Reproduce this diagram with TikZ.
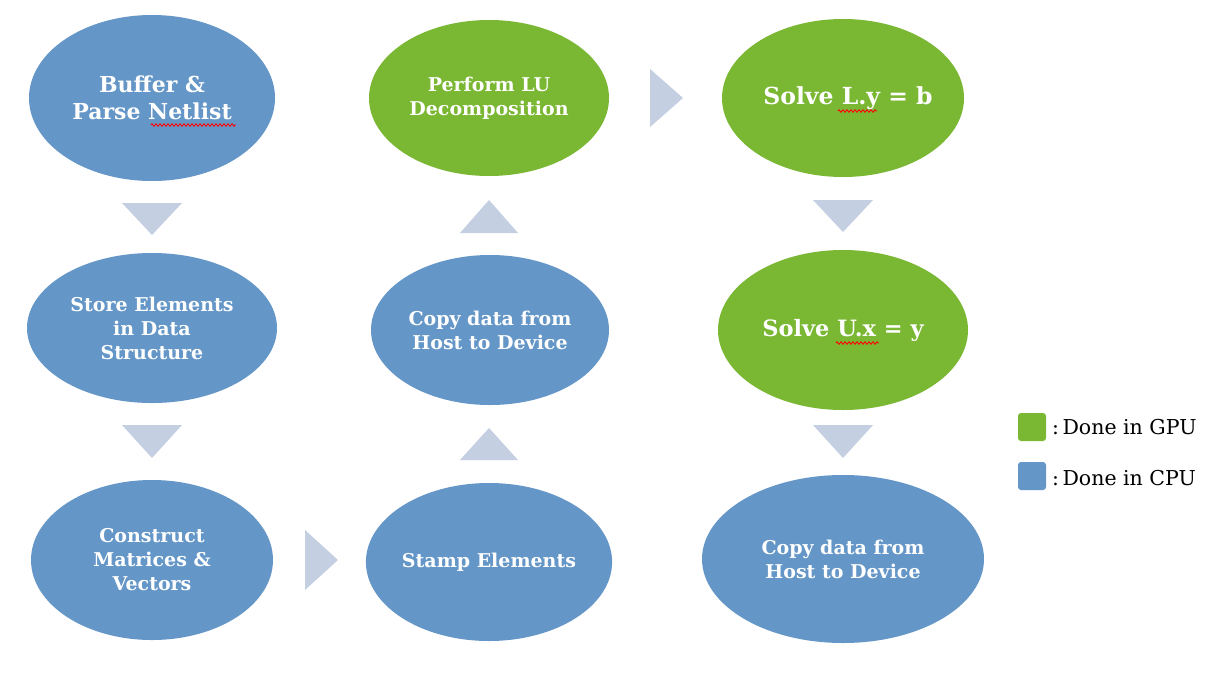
\documentclass[tikz,border=0pt]{standalone}
\usepackage{fontspec}
\setmainfont{DejaVu Serif}
\usetikzlibrary{shapes.geometric,decorations.pathmorphing}
\definecolor{cpu}{HTML}{6496C7}
\definecolor{gpu}{HTML}{7AB733}
\definecolor{arr}{HTML}{C4CFE2}
\tikzset{
  blob/.style={ellipse,inner sep=0pt,text=white,align=center},
  big/.style={font=\bfseries\fontsize{22}{27}\selectfont},
  mid/.style={font=\bfseries\fontsize{19}{24}\selectfont},
  cpublob/.style={blob,fill=cpu},
  gpublob/.style={blob,fill=gpu},
  tri/.style={fill=arr},
  spell/.style={draw=red,line width=0.9pt,decorate,decoration={zigzag,amplitude=1.2pt,segment length=4pt}},
  legtext/.style={anchor=west,inner sep=0pt,font=\fontsize{20.5}{24}\selectfont}
}
\begin{document}
\begin{tikzpicture}[x=1pt,y=-1pt]
\useasboundingbox[fill=white] (0,0) rectangle (1230,696);
% ellipses
\node[cpublob,big,minimum width=246pt,minimum height=166pt] (n1) at (152,98) {Buffer \&\\Parse Netlist};
\node[cpublob,mid,minimum width=250pt,minimum height=150pt] (n2) at (152,328) {Store Elements\\in Data\\Structure};
\node[cpublob,mid,minimum width=242pt,minimum height=160pt] (n3) at (152,560) {Construct\\Matrices \&\\Vectors};
\node[cpublob,mid,minimum width=242pt,minimum height=158pt] (n4) at (489,562) {Stamp Elements};
\node[cpublob,mid,minimum width=238pt,minimum height=150pt] (n5) at (490,330) {Copy data from\\Host to Device};
\node[gpublob,mid,minimum width=240pt,minimum height=156pt] (n6) at (489,98) {Perform LU\\Decomposition};
\node[gpublob,minimum width=242pt,minimum height=158pt] (n7) at (843,98) {};
\node[text=white,inner sep=0pt,font=\bfseries\fontsize{23.5}{28}\selectfont] (t7) at (848,98) {Solve L.y = b};
\node[gpublob,minimum width=250pt,minimum height=160pt,font=\bfseries\fontsize{22.5}{28}\selectfont] (n8) at (843,330) {Solve U.x = y};
\node[cpublob,mid,minimum width=282pt,minimum height=168pt] (n9) at (843,559) {Copy data from\\Host to Device};
% arrow triangles
\fill[tri] (122,203) -- (182,203) -- (152,235) -- cycle;
\fill[tri] (122,425) -- (182,425) -- (152,458) -- cycle;
\fill[tri] (305,530) -- (338,560) -- (305,590) -- cycle;
\fill[tri] (460,460) -- (518,460) -- (489,428) -- cycle;
\fill[tri] (460,233) -- (518,233) -- (489,200) -- cycle;
\fill[tri] (650,69) -- (683,98) -- (650,127) -- cycle;
\fill[tri] (813,200) -- (873,200) -- (843,232) -- cycle;
\fill[tri] (813,425) -- (873,425) -- (843,458) -- cycle;
% spelling marks
\draw[spell] (151,125) -- (236,125);
\draw[spell] (838,111) -- (877,111);
\draw[spell] (836,343) -- (879,343);
% legend
\node[fill=gpu,rounded corners=3pt,minimum size=28pt,inner sep=0pt] (g) at (1032,427) {};
\node[fill=cpu,rounded corners=3pt,minimum size=28pt,inner sep=0pt] (c) at (1032,476) {};
\node[legtext] (gt) at (1052,427) {:\,Done in GPU};
\node[legtext] (ct) at (1052,478) {:\,Done in CPU};
\end{tikzpicture}
\end{document}
